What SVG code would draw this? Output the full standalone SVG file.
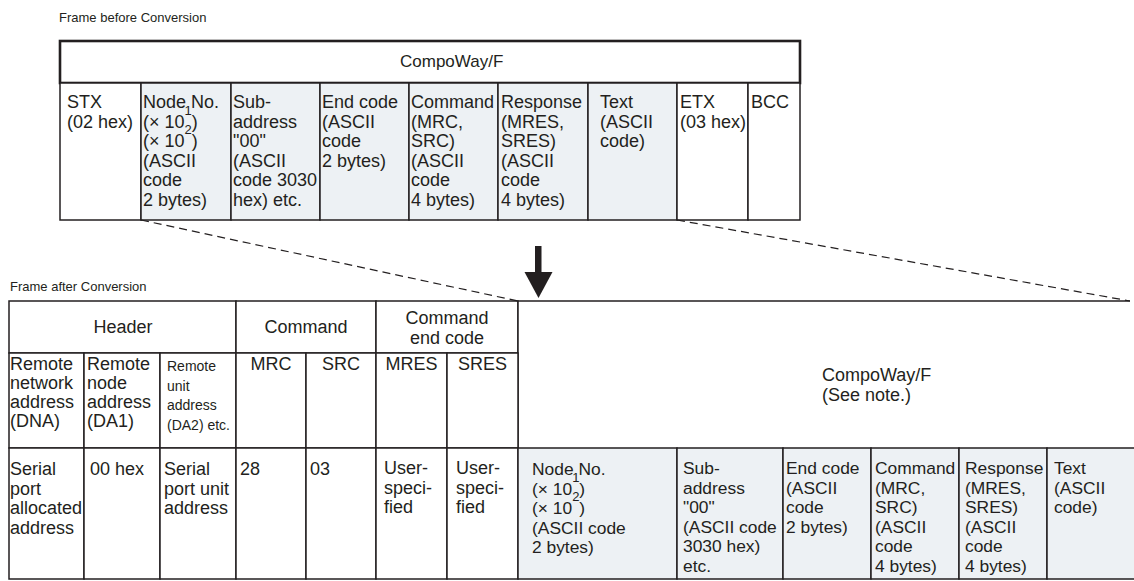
<svg xmlns="http://www.w3.org/2000/svg" width="1134" height="581" viewBox="0 0 1134 581">
<style>
text{font-family:"Liberation Sans",Arial,Helvetica,sans-serif;font-size:18px;fill:#231f20}
.title{font-size:13px}
.sm{font-size:14px}
.sup{font-size:13px}
.b3{font-size:17.4px}
.c{text-anchor:middle}
.w{fill:#fff;stroke:#231f20;stroke-width:1.5}
.g{fill:#edf1f4;stroke:#231f20;stroke-width:1.5}
.thick{fill:#fff;stroke:#231f20;stroke-width:2.6}
.ln{fill:none;stroke:#231f20;stroke-width:1.5}
.dash{fill:none;stroke:#231f20;stroke-width:1.2;stroke-dasharray:8 5}
</style>
<text class="title" x="59" y="22">Frame before Conversion</text>
<text class="title" x="10" y="291">Frame after Conversion</text>

<!-- Top frame -->
<g id="top-compoway">
<rect class="thick" x="60" y="41" width="740" height="42"/>
<text x="400" y="67" style="font-size:17px">CompoWay/F</text>
</g>
<g id="top-stx"><rect class="w" x="60" y="83" width="81" height="137"/>
<text x="67" y="108">STX<tspan x="67" dy="19.6">(02 hex)</tspan></text></g>
<g id="top-node"><rect class="g" x="141" y="83" width="90" height="137"/>
<text x="143" y="108">Node No.<tspan x="143" dy="19.6">(× 10</tspan><tspan class="sup" dy="-13">1</tspan><tspan dy="13">)</tspan><tspan x="143" dy="19.6">(× 10</tspan><tspan class="sup" dy="-13">2</tspan><tspan dy="13">)</tspan><tspan x="143" dy="19.6">(ASCII</tspan><tspan x="143" dy="19.6">code</tspan><tspan x="143" dy="19.6">2 bytes)</tspan></text></g>
<g id="top-sub"><rect class="g" x="231" y="83" width="89" height="137"/>
<text x="233" y="108">Sub-<tspan x="233" dy="19.6">address</tspan><tspan x="233" dy="19.6">"00"</tspan><tspan x="233" dy="19.6">(ASCII</tspan><tspan x="233" dy="19.6">code 3030</tspan><tspan x="233" dy="19.6">hex) etc.</tspan></text></g>
<g id="top-end"><rect class="g" x="320" y="83" width="89" height="137"/>
<text x="322" y="108">End code<tspan x="322" dy="19.6">(ASCII</tspan><tspan x="322" dy="19.6">code</tspan><tspan x="322" dy="19.6">2 bytes)</tspan></text></g>
<g id="top-command"><rect class="g" x="409" y="83" width="89" height="137"/>
<text x="411" y="108">Command<tspan x="411" dy="19.6">(MRC,</tspan><tspan x="411" dy="19.6">SRC)</tspan><tspan x="411" dy="19.6">(ASCII</tspan><tspan x="411" dy="19.6">code</tspan><tspan x="411" dy="19.6">4 bytes)</tspan></text></g>
<g id="top-response"><rect class="g" x="498" y="83" width="90" height="137"/>
<text x="501" y="108">Response<tspan x="501" dy="19.6">(MRES,</tspan><tspan x="501" dy="19.6">SRES)</tspan><tspan x="501" dy="19.6">(ASCII</tspan><tspan x="501" dy="19.6">code</tspan><tspan x="501" dy="19.6">4 bytes)</tspan></text></g>
<g id="top-text"><rect class="g" x="588" y="83" width="89" height="137"/>
<text x="600" y="108">Text<tspan x="600" dy="19.6">(ASCII</tspan><tspan x="600" dy="19.6">code)</tspan></text></g>
<g id="top-etx"><rect class="w" x="677" y="83" width="71" height="137"/>
<text x="680" y="108">ETX<tspan x="680" dy="19.6">(03 hex)</tspan></text></g>
<g id="top-bcc"><rect class="w" x="748" y="83" width="52" height="137"/>
<text x="751" y="108">BCC</text></g>

<!-- Bottom frame -->
<g id="bot-header"><rect class="w" x="9" y="301" width="227" height="52"/>
<text class="c" x="123" y="333">Header</text></g>
<g id="bot-command"><rect class="w" x="236" y="301" width="140" height="52"/>
<text class="c" x="306" y="333">Command</text></g>
<g id="bot-endcode"><rect class="w" x="376" y="301" width="142" height="52"/>
<text class="c" x="447" y="324">Command<tspan x="447" dy="20">end code</tspan></text></g>
<g id="bot-compoway">
<rect x="518" y="301" width="616" height="147" fill="#fff"/>
<path class="ln" d="M518,448V301H1130"/>
<text x="822" y="381">CompoWay/F<tspan x="822" dy="20">(See note.)</tspan></text>
</g>

<g id="bot-dna"><rect class="w" x="9" y="353" width="75" height="95"/>
<text x="10" y="370">Remote<tspan x="10" dy="19">network</tspan><tspan x="10" dy="19">address</tspan><tspan x="10" dy="19">(DNA)</tspan></text></g>
<g id="bot-da1"><rect class="w" x="84" y="353" width="76" height="95"/>
<text x="87" y="370">Remote<tspan x="87" dy="19">node</tspan><tspan x="87" dy="19">address</tspan><tspan x="87" dy="19">(DA1)</tspan></text></g>
<g id="bot-da2"><rect class="w" x="160" y="353" width="76" height="95"/>
<text class="sm" x="167" y="371">Remote<tspan x="167" dy="19.5">unit</tspan><tspan x="167" dy="19.5">address</tspan><tspan x="167" dy="19.5">(DA2) etc.</tspan></text></g>
<g id="bot-mrc"><rect class="w" x="236" y="353" width="70" height="95"/>
<text class="c" x="271" y="370">MRC</text></g>
<g id="bot-src"><rect class="w" x="306" y="353" width="70" height="95"/>
<text class="c" x="341" y="370">SRC</text></g>
<g id="bot-mres"><rect class="w" x="376" y="353" width="71" height="95"/>
<text class="c" x="411.5" y="370">MRES</text></g>
<g id="bot-sres"><rect class="w" x="447" y="353" width="71" height="95"/>
<text class="c" x="482.5" y="370">SRES</text></g>

<g id="bot-v-dna"><rect class="w" x="9" y="448" width="75" height="131"/>
<text x="10" y="475">Serial<tspan x="10" dy="19.5">port</tspan><tspan x="10" dy="19.5">allocated</tspan><tspan x="10" dy="19.5">address</tspan></text></g>
<g id="bot-v-da1"><rect class="w" x="84" y="448" width="76" height="131"/>
<text x="90" y="475">00 hex</text></g>
<g id="bot-v-da2"><rect class="w" x="160" y="448" width="76" height="131"/>
<text x="164" y="475">Serial<tspan x="164" dy="19.5">port unit</tspan><tspan x="164" dy="19.5">address</tspan></text></g>
<g id="bot-v-mrc"><rect class="w" x="236" y="448" width="70" height="131"/>
<text x="240" y="475">28</text></g>
<g id="bot-v-src"><rect class="w" x="306" y="448" width="70" height="131"/>
<text x="310" y="475">03</text></g>
<g id="bot-v-mres"><rect class="w" x="376" y="448" width="71" height="131"/>
<text x="384" y="474">User-<tspan x="384" dy="19.5">speci-</tspan><tspan x="384" dy="19.5">fied</tspan></text></g>
<g id="bot-v-sres"><rect class="w" x="447" y="448" width="71" height="131"/>
<text x="456" y="474">User-<tspan x="456" dy="19.5">speci-</tspan><tspan x="456" dy="19.5">fied</tspan></text></g>

<g id="bot-node"><rect class="g" x="518" y="448" width="159" height="131"/>
<text class="b3" x="532" y="475">Node No.<tspan x="532" dy="19.5">(× 10</tspan><tspan class="sup" dy="-13">1</tspan><tspan dy="13">)</tspan><tspan x="532" dy="19.5">(× 10</tspan><tspan class="sup" dy="-13">2</tspan><tspan dy="13">)</tspan><tspan x="532" dy="19.5">(ASCII code</tspan><tspan x="532" dy="19.5">2 bytes)</tspan></text></g>
<g id="bot-sub"><rect class="g" x="677" y="448" width="106" height="131"/>
<text class="b3" x="683" y="474">Sub-<tspan x="683" dy="19.5">address</tspan><tspan x="683" dy="19.5">"00"</tspan><tspan x="683" dy="19.5">(ASCII code</tspan><tspan x="683" dy="19.5">3030 hex)</tspan><tspan x="683" dy="19.5">etc.</tspan></text></g>
<g id="bot-end"><rect class="g" x="783" y="448" width="88" height="131"/>
<text class="b3" x="786" y="474">End code<tspan x="786" dy="19.5">(ASCII</tspan><tspan x="786" dy="19.5">code</tspan><tspan x="786" dy="19.5">2 bytes)</tspan></text></g>
<g id="bot-command2"><rect class="g" x="871" y="448" width="88" height="131"/>
<text class="b3" x="875" y="474">Command<tspan x="875" dy="19.5">(MRC,</tspan><tspan x="875" dy="19.5">SRC)</tspan><tspan x="875" dy="19.5">(ASCII</tspan><tspan x="875" dy="19.5">code</tspan><tspan x="875" dy="19.5">4 bytes)</tspan></text></g>
<g id="bot-response"><rect class="g" x="959" y="448" width="88" height="131"/>
<text class="b3" x="965" y="474">Response<tspan x="965" dy="19.5">(MRES,</tspan><tspan x="965" dy="19.5">SRES)</tspan><tspan x="965" dy="19.5">(ASCII</tspan><tspan x="965" dy="19.5">code</tspan><tspan x="965" dy="19.5">4 bytes)</tspan></text></g>
<g id="bot-text"><rect class="g" x="1047" y="448" width="92" height="131"/>
<text class="b3" x="1054" y="474">Text<tspan x="1054" dy="19.5">(ASCII</tspan><tspan x="1054" dy="19.5">code)</tspan></text></g>

<g id="connectors">
<line class="dash" x1="141" y1="220" x2="518" y2="301"/>
<line class="dash" x1="677" y1="220" x2="1130" y2="301"/>
<rect x="535" y="246" width="6.5" height="27" fill="#231f20"/>
<polygon points="524.5,272 552.5,272 538.5,298" fill="#231f20"/>
</g>
</svg>
